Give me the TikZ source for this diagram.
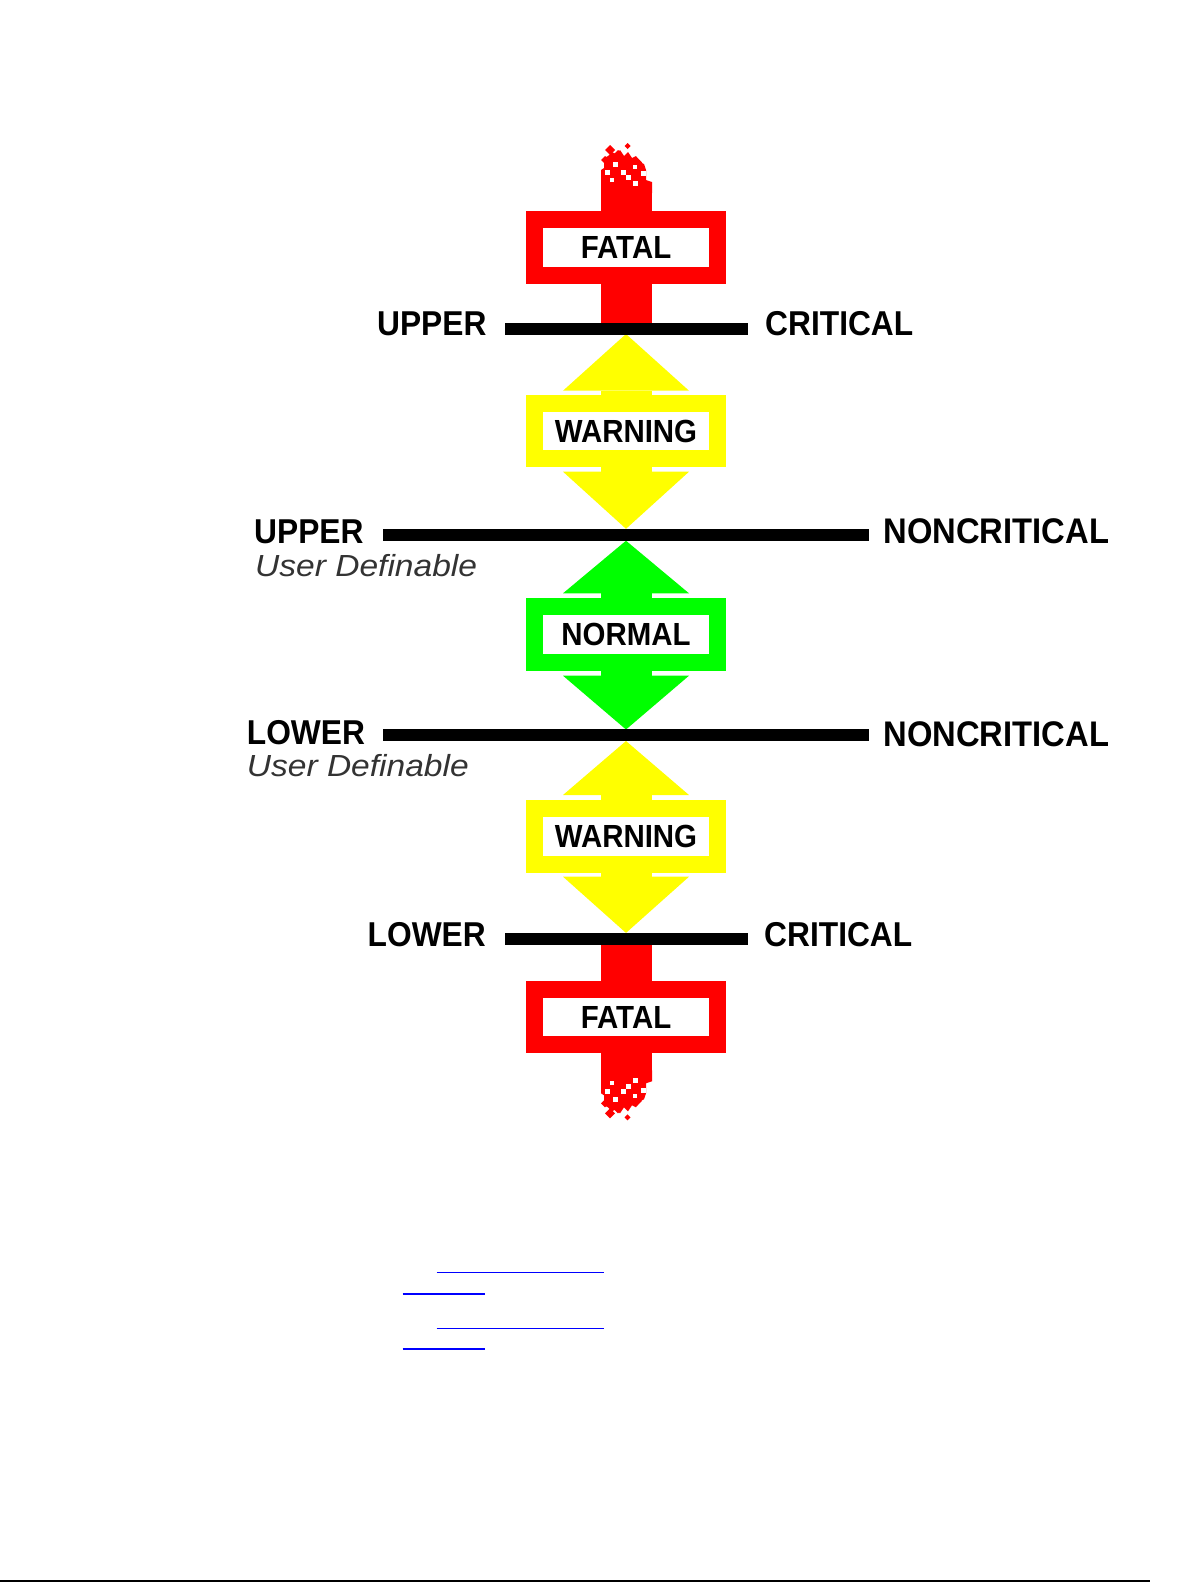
\documentclass[tikz,border=0pt]{standalone}
\usepackage{fontspec}
\setmainfont{Liberation Sans}
\newfontfamily\labfont[FakeStretch=0.92]{Liberation Sans}
\newfontfamily\udfont[FakeStretch=1.1]{Liberation Sans}
\definecolor{fred}{RGB}{255,0,0}
\definecolor{wyel}{RGB}{255,255,0}
\definecolor{ngrn}{RGB}{0,255,0}
\definecolor{lblue}{RGB}{0,0,255}
\tikzset{
 lvlbox/.style={draw=#1, line width=17pt, fill=white, minimum width=183pt, minimum height=55.4pt,
   inner sep=0pt, font=\labfont\bfseries\fontsize{32}{32}\selectfont, text height=22.9pt, text depth=0pt},
 thold/.style={line width=12pt, draw=black},
 bigl/.style={inner sep=0pt, font=\labfont\bfseries\fontsize{34.5}{34.5}\selectfont},
 widel/.style={inner sep=0pt, font=\labfont\bfseries\fontsize{35.6}{35.6}\selectfont},
 udef/.style={inner sep=0pt, font=\udfont\itshape\fontsize{30.5}{30.5}\selectfont, text=black!80},
 ulink/.style={draw=lblue, line width=1.5pt},
}
\newcommand{\lvlheads}[5]{% colour, tip top, base top, base bottom, tip bottom
 \fill[#1] (626,#2) -- (689,#3) -- (563,#3) -- cycle;
 \fill[#1] (601,#3) rectangle (652,#4);
 \fill[#1] (563,#4) -- (689,#4) -- (626,#5) -- cycle;
}
\newcommand{\ditherpart}{%
 \fill[fred] (-25,-18) -- (-25,-41) -- (-22,-43) -- (-22,-53) -- (-18,-55) -- (-14,-59) -- (-10,-57)
   -- (-6,-61) -- (-2,-55) -- (2,-59) -- (6,-53) -- (10,-55) -- (14,-49) -- (18,-47) -- (20,-41)
   -- (20,-31) -- (26,-29) -- (26,-18) -- cycle;
 \foreach \x/\y/\s in {-16/-61/5, -8/-56/5, 1.5/-65/3, 11/-48.5/5, -21/-51/4}
   \fill[fred] (\x,\y-\s) -- (\x+\s,\y) -- (\x,\y+\s) -- (\x-\s,\y) -- cycle;
 \foreach \x/\y/\s in {-19/-39/2.5, -11/-47/2.5, -3/-39/2.5, 2/-34/2.5, 9/-28/2.5, 17/-38/2.5, 9/-44/2, -14/-31/2}
   \fill[white] (\x-\s,\y-\s) rectangle (\x+\s,\y+\s);
}
\begin{document}
\begin{tikzpicture}[x=1pt,y=-1pt]
\fill[white] (0,0) rectangle (1192,1583);
\useasboundingbox (0,0) rectangle (1192,1583);

% fatal stems with dithered ends
\fill[fred] (601,193) rectangle (652,324);
\begin{scope}[shift={(626,211)}]\ditherpart\end{scope}
\fill[fred] (601,943) rectangle (652,1071);
\begin{scope}[shift={(626,1052.3)}, yscale=-1]\ditherpart\end{scope}

% double arrow heads
\lvlheads{wyel}{334}{390.7}{471.7}{528.8}
\lvlheads{ngrn}{540.7}{593.3}{675.7}{729.5}
\lvlheads{wyel}{741}{795}{876.7}{932.9}

% level boxes
\node[lvlbox=fred] (fatalup) at (626,247.3) {FATAL};
\node[lvlbox=wyel] (warnup) at (626,430.8) {WARNING};
\node[lvlbox=ngrn] (normal) at (626,634.5) {NORMAL};
\node[lvlbox=wyel] (warnlo) at (626,836.5) {WARNING};
\node[lvlbox=fred] (fatallo) at (626,1016.7) {FATAL};

% threshold bars
\coordinate (b1l) at (505,328.5);   \coordinate (b1r) at (748,328.5);
\coordinate (b2l) at (383.3,535);   \coordinate (b2r) at (869,535);
\coordinate (b3l) at (383.3,735.4); \coordinate (b3r) at (869,735.4);
\coordinate (b4l) at (505,938.8);   \coordinate (b4r) at (748,938.8);
\draw[thold] (b1l) -- (b1r);
\draw[thold] (b2l) -- (b2r);
\draw[thold] (b3l) -- (b3r);
\draw[thold] (b4l) -- (b4r);

% labels
\node[bigl, anchor=base east] (uc) at (486.7,335) {UPPER};
\node[bigl, anchor=base west] (ucr) at (765,335) {CRITICAL};
\node[bigl, anchor=base west] (un) at (254,543.5) {UPPER};
\node[udef, anchor=base west] (und) at (255,576) {User Definable};
\node[widel, anchor=base west] (unr) at (883.3,543.5) {NONCRITICAL};
\node[bigl, anchor=base west] (ln) at (246.7,744.5) {LOWER};
\node[udef, anchor=base west] (lnd) at (246.7,776.5) {User Definable};
\node[widel, anchor=base west] (lnr) at (883.3,746.5) {NONCRITICAL};
\node[bigl, anchor=base east] (lc) at (486,946) {LOWER};
\node[bigl, anchor=base west] (lcr) at (764,946) {CRITICAL};

% link underlines
\draw[ulink] (436.7,1272.3) -- (604,1272.3);
\draw[ulink] (402.7,1294) -- (485,1294);
\draw[ulink] (436.7,1328.3) -- (604,1328.3);
\draw[ulink] (402.7,1349) -- (485,1349);

% page rule at bottom
\draw[line width=2pt] (0,1581) -- (1150,1581);
\end{tikzpicture}
\end{document}
